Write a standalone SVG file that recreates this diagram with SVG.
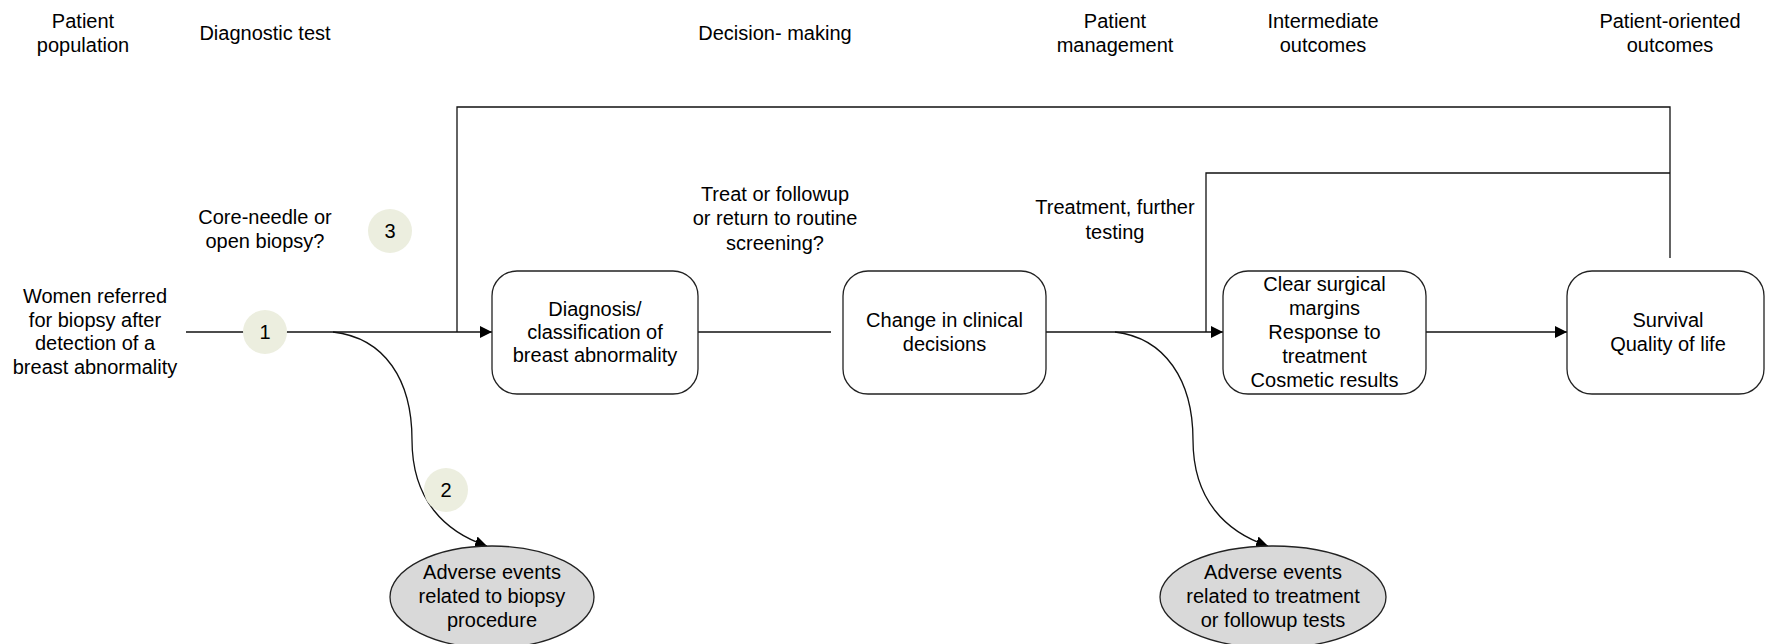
<svg xmlns="http://www.w3.org/2000/svg" width="1766" height="644" viewBox="0 0 1766 644">
<defs>
<marker id="arr" markerUnits="userSpaceOnUse" markerWidth="13" markerHeight="13" refX="12" refY="6.5" orient="auto">
<path d="M0,0.5 L12,6.5 L0,12.5 z" fill="#000"/>
</marker>
<style>
text{font-family:"Liberation Sans",Arial,sans-serif;font-size:20px;fill:#000;text-anchor:middle}
.box{fill:#fff;stroke:#222;stroke-width:1.3}
.ell{fill:#d9d9d9;stroke:#222;stroke-width:1.3}
.num{fill:#eceedf;stroke:none}
.ln{fill:none;stroke:#111;stroke-width:1.3}
</style>
</defs>
<rect width="1766" height="644" fill="#fff"/>
<g id="headers">
<text x="83" y="28">Patient</text><text x="83" y="52">population</text>
<text x="265" y="40">Diagnostic test</text>
<text x="775" y="40">Decision- making</text>
<text x="1115" y="28">Patient</text><text x="1115" y="52">management</text>
<text x="1323" y="28">Intermediate</text><text x="1323" y="52">outcomes</text>
<text x="1670" y="28">Patient-oriented</text><text x="1670" y="52">outcomes</text>
</g>
<g id="connectors">
<path class="ln" d="M186,332 H492" marker-end="url(#arr)"/>
<path class="ln" d="M457,332 V107 H1670 V258"/>
<path class="ln" d="M1206,332 V173 H1670"/>
<path class="ln" d="M698,332 H831"/>
<path class="ln" d="M1046,332 H1223" marker-end="url(#arr)"/>
<path class="ln" d="M1426,332 H1567" marker-end="url(#arr)"/>
<path class="ln" d="M333,332 C385,338 412,380 412,440 C412,500 445,532 487,546" marker-end="url(#arr)"/>
<path class="ln" d="M1115,332 C1165,338 1193,380 1193,440 C1193,500 1226,532 1268,546" marker-end="url(#arr)"/>
</g>
<g id="population">
<text x="95" y="303">Women referred</text>
<text x="95" y="327">for biopsy after</text>
<text x="95" y="350">detection of a</text>
<text x="95" y="374">breast abnormality</text>
</g>
<g id="label-biopsy">
<text x="265" y="224">Core-needle or</text>
<text x="265" y="248">open biopsy?</text>
</g>
<g id="label-treat">
<text x="775" y="201">Treat or followup</text>
<text x="775" y="225">or return to routine</text>
<text x="775" y="250">screening?</text>
</g>
<g id="label-treatment">
<text x="1115" y="214">Treatment, further</text>
<text x="1115" y="239">testing</text>
</g>
<g id="kq1"><circle class="num" cx="265" cy="332" r="22"/><text x="265" y="339">1</text></g>
<g id="kq2"><circle class="num" cx="446" cy="490" r="22"/><text x="446" y="497">2</text></g>
<g id="kq3"><circle class="num" cx="390" cy="231" r="22"/><text x="390" y="238">3</text></g>
<g id="diagnosis">
<rect class="box" x="492" y="271" width="206" height="123" rx="25"/>
<text x="595" y="316">Diagnosis/</text>
<text x="595" y="339">classification of</text>
<text x="595" y="362">breast abnormality</text>
</g>
<g id="decisions">
<rect class="box" x="843" y="271" width="203" height="123" rx="25"/>
<text x="944.5" y="327">Change in clinical</text>
<text x="944.5" y="351">decisions</text>
</g>
<g id="intermediate">
<rect class="box" x="1223" y="271" width="203" height="123" rx="25"/>
<text x="1324.5" y="291">Clear surgical</text>
<text x="1324.5" y="315">margins</text>
<text x="1324.5" y="339">Response to</text>
<text x="1324.5" y="363">treatment</text>
<text x="1324.5" y="387">Cosmetic results</text>
</g>
<g id="outcomes">
<rect class="box" x="1567" y="271" width="197" height="123" rx="25"/>
<text x="1668" y="327">Survival</text>
<text x="1668" y="351">Quality of life</text>
</g>
<g id="adverse-biopsy">
<ellipse class="ell" cx="492" cy="597" rx="102" ry="51"/>
<text x="492" y="579">Adverse events</text>
<text x="492" y="603">related to biopsy</text>
<text x="492" y="627">procedure</text>
</g>
<g id="adverse-treatment">
<ellipse class="ell" cx="1273" cy="597" rx="113" ry="51"/>
<text x="1273" y="579">Adverse events</text>
<text x="1273" y="603">related to treatment</text>
<text x="1273" y="627">or followup tests</text>
</g>
</svg>
